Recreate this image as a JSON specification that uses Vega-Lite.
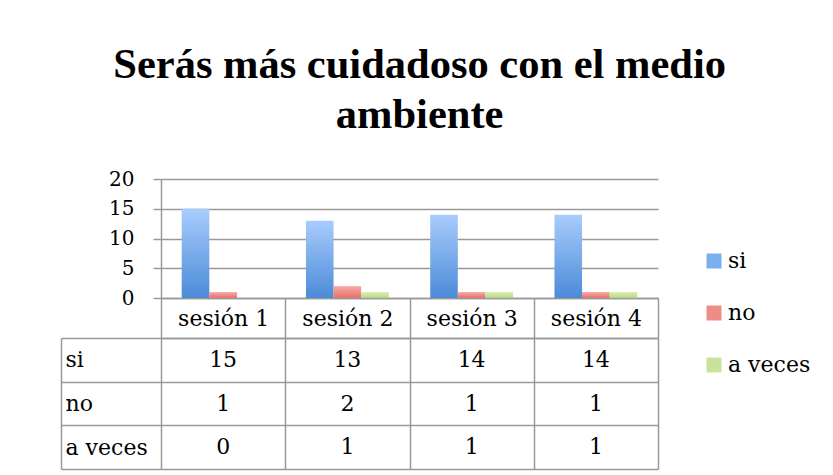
{
  "$schema": "https://vega.github.io/schema/vega-lite/v6.json",
  "background": "white",
  "padding": {"left": 60, "top": 43, "right": 5, "bottom": 5},
  "title": {
    "text": ["Serás más cuidadoso con el medio", "ambiente"],
    "font": "Liberation Serif",
    "fontSize": 42.5,
    "fontWeight": "bold",
    "lineHeight": 50,
    "anchor": "middle",
    "offset": 33,
    "dx": -16,
    "color": "black"
  },
  "datasets": {
    "d": [
      {"sesion": "sesión 1", "serie": "si", "value": 15},
      {"sesion": "sesión 2", "serie": "si", "value": 13},
      {"sesion": "sesión 3", "serie": "si", "value": 14},
      {"sesion": "sesión 4", "serie": "si", "value": 14},
      {"sesion": "sesión 1", "serie": "no", "value": 1},
      {"sesion": "sesión 2", "serie": "no", "value": 2},
      {"sesion": "sesión 3", "serie": "no", "value": 1},
      {"sesion": "sesión 4", "serie": "no", "value": 1},
      {"sesion": "sesión 1", "serie": "a veces", "value": 0},
      {"sesion": "sesión 2", "serie": "a veces", "value": 1},
      {"sesion": "sesión 3", "serie": "a veces", "value": 1},
      {"sesion": "sesión 4", "serie": "a veces", "value": 1}
    ]
  },
  "data": {"name": "d"},
  "bounds": "flush",
  "spacing": 40,
  "vconcat": [
    {
      "width": 497,
      "height": 119,
      "encoding": {
        "x": {
          "field": "sesion",
          "type": "nominal",
          "scale": {"domain": ["sesión 1", "sesión 2", "sesión 3", "sesión 4"], "paddingInner": 0, "paddingOuter": 0},
          "axis": {"labels": false, "ticks": false, "title": null, "grid": false, "domainColor": "#999999", "domainWidth": 1.5}
        },
        "xOffset": {
          "field": "serie",
          "type": "nominal",
          "scale": {"domain": ["si", "no", "a veces"], "paddingInner": 0, "paddingOuter": 0.75}
        },
        "y": {
          "field": "value",
          "type": "quantitative",
          "scale": {"domain": [0, 20], "nice": false},
          "axis": {
            "values": [0, 5, 10, 15, 20],
            "title": null,
            "grid": true,
            "gridColor": "#999999",
            "gridWidth": 1.5,
            "domainColor": "#999999",
            "domainWidth": 1.5,
            "tickColor": "#999999",
            "tickWidth": 1.5,
            "tickSize": 8,
            "labelPadding": 19,
            "labelFont": "DejaVu Serif",
            "labelFontSize": 20,
            "labelColor": "black"
          }
        }
      },
      "layer": [
        {
          "transform": [{"filter": "datum.serie === 'si'"}],
          "mark": {
            "type": "bar",
            "color": {"gradient": "linear", "x1": 0, "y1": 0, "x2": 0, "y2": 1,
              "stops": [{"offset": 0, "color": "#a9ccfd"}, {"offset": 1, "color": "#4b8bd8"}]}
          }
        },
        {
          "transform": [{"filter": "datum.serie === 'no'"}],
          "mark": {
            "type": "bar",
            "color": {"gradient": "linear", "x1": 0, "y1": 0, "x2": 0, "y2": 1,
              "stops": [{"offset": 0, "color": "#f8aaa6"}, {"offset": 1, "color": "#e4716b"}]}
          }
        },
        {
          "transform": [{"filter": "datum.serie === 'a veces'"}],
          "mark": {
            "type": "bar",
            "color": {"gradient": "linear", "x1": 0, "y1": 0, "x2": 0, "y2": 1,
              "stops": [{"offset": 0, "color": "#daf0b2"}, {"offset": 1, "color": "#b6d880"}]}
          }
        },
        {
          "transform": [{"filter": "datum.value < 0"}],
          "mark": {"type": "square"},
          "encoding": {
            "color": {
              "field": "serie",
              "type": "nominal",
              "scale": {"domain": ["si", "no", "a veces"], "range": ["#7aaeec", "#ef8c88", "#c8e49a"]},
              "legend": {
                "orient": "none",
                "legendX": 542,
                "legendY": 71,
                "title": null,
                "padding": 0,
                "symbolType": "square",
                "symbolSize": 225,
                "symbolStrokeWidth": 0,
                "symbolOpacity": 1,
                "labelFont": "DejaVu Serif",
                "labelFontSize": 22,
                "labelColor": "black",
                "labelOffset": 3,
                "rowPadding": 30
              }
            }
          }
        }
      ]
    },
    {
      "width": 497,
      "height": 131,
      "mark": {"type": "text", "font": "DejaVu Serif", "fontSize": 22, "color": "black"},
      "encoding": {
        "x": {
          "field": "sesion",
          "type": "nominal",
          "scale": {"domain": ["sesión 1", "sesión 2", "sesión 3", "sesión 4"], "paddingInner": 0, "paddingOuter": 0},
          "axis": {
            "orient": "top",
            "title": null,
            "tickBand": "extent",
            "tickSize": 40,
            "tickColor": "#999999",
            "tickWidth": 1.5,
            "domainColor": "#999999",
            "domainWidth": 1.5,
            "grid": true,
            "gridColor": "#999999",
            "gridWidth": 1.5,
            "labelAngle": 0,
            "labelPadding": -20,
            "labelBaseline": "middle",
            "labelFont": "DejaVu Serif",
            "labelFontSize": 22,
            "labelColor": "black"
          }
        },
        "y": {
          "field": "serie",
          "type": "nominal",
          "scale": {"domain": ["si", "no", "a veces"], "paddingInner": 0, "paddingOuter": 0},
          "axis": {
            "title": null,
            "offset": 100,
            "tickBand": "extent",
            "tickSize": -100,
            "tickColor": "#999999",
            "tickWidth": 1.5,
            "domainColor": "#999999",
            "domainWidth": 1.5,
            "grid": true,
            "gridColor": "#999999",
            "gridWidth": 1.5,
            "labelAlign": "left",
            "labelPadding": 96,
            "labelBaseline": "middle",
            "labelFont": "DejaVu Serif",
            "labelFontSize": 22,
            "labelColor": "black"
          }
        },
        "text": {"field": "value", "type": "quantitative"}
      }
    }
  ],
  "config": {
    "view": {"stroke": null},
    "font": "DejaVu Serif"
  }
}
